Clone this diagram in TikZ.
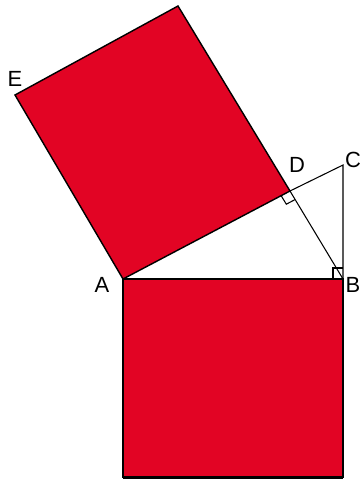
\documentclass[tikz,border=0pt]{standalone}
\usepackage{fontspec}
\setmainfont{Liberation Sans}
\usetikzlibrary{calc}
\definecolor{sqred}{RGB}{226,4,36}
\tikzset{
  sq/.style={fill=sqred, draw=black, line width=0.8pt, line join=miter},
  thin line/.style={draw=black, line width=0.6pt},
  lbl/.style={inner sep=0pt, font=\fontsize{12.5}{14}\selectfont}
}
\begin{document}
\begin{tikzpicture}[x=0.02cm,y=-0.02cm]
\useasboundingbox (0,0) rectangle (361,480);
\coordinate (A) at (123,279);
\coordinate (B) at (343,279);
\coordinate (C) at (343,165);
\coordinate (D) at (290,191);
\coordinate (T) at (178,6);
\coordinate (E) at (15,95);
\coordinate (P) at (123,477);
\coordinate (Q) at (343,477);
% square on AB
\path[sq] (A) -- (B) -- (Q) -- (P) -- cycle;
\draw[line width=1.6pt] ($(P)+(0,1)$) -- ($(Q)+(0,1)$);
% square on AD
\path[sq] (A) -- (D) -- (T) -- (E) -- cycle;
% triangle lines
\draw[thin line] (A) -- (B);
\draw[thin line] (D) -- (C) -- (B);
\draw[thin line] (D) -- (B);
% right angle marks
\draw[thin line] ($(D)!0.053!(A)$) -- ($(D)!0.053!(A)+(D)!0.097!(B)-(D)$) -- ($(D)!0.097!(B)$);
\draw[thin line] ($(B)+(-10,0)$) -- ($(B)+(-10,-11)$) -- ($(B)+(0,-11)$);
% labels
\node[lbl] (lE) at (15,79) {E};
\node[lbl] (lA) at (102,285) {A};
\node[lbl] (lD) at (297,165) {D};
\node[lbl] (lC) at (353,160) {C};
\node[lbl] (lB) at (353,285) {B};
\end{tikzpicture}
\end{document}
